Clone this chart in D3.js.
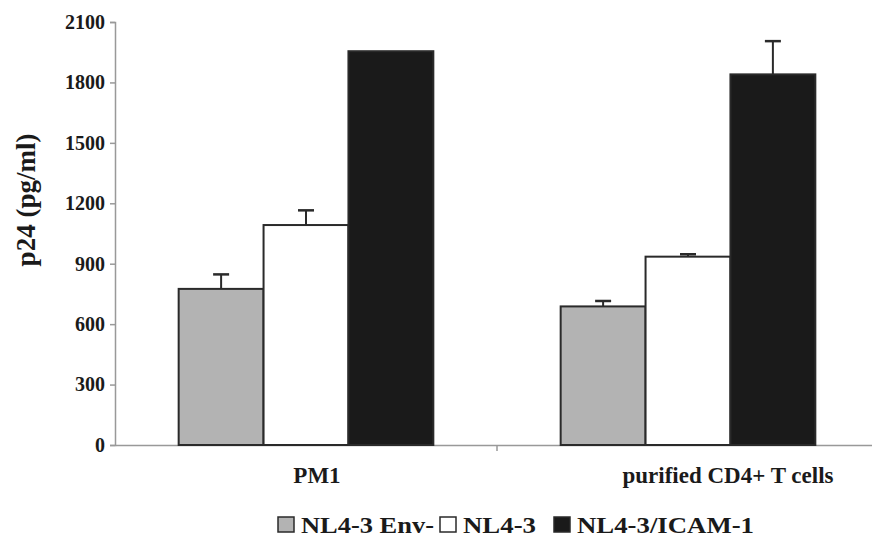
<!DOCTYPE html>
<html>
<head>
<meta charset="utf-8">
<script src="https://cdn.jsdelivr.net/npm/d3@7"></script>
<style>
  body { margin: 0; background: #fff; }
  text { font-family: "Liberation Serif", "DejaVu Serif", serif; font-weight: bold; fill: #1a1a1a; }
</style>
</head>
<body>
<div id="chart"></div>
<script>
// datos
const categorias = ['PM1', 'purified CD4+ T cells'];
const series = ['NL4-3 Env-', 'NL4-3', 'NL4-3/ICAM-1'];
const valores = [
  [775, 1092, 1955],
  [688, 935, 1840]
];
const errores = [
  [72, 73, 0],
  [27, 12, 165]
];
const ticksY = [0, 300, 600, 900, 1200, 1500, 1800, 2100];

const colores = ['#b3b3b3', '#ffffff', '#1a1a1a'];

const width = 872, height = 553;
const margin = {left: 115, right: -7, top: 22, bottom: 108};

const svg = d3.select('#chart').append('svg')
  .attr('width', width)
  .attr('height', height);

const x0 = d3.scaleBand()
  .domain(categorias)
  .range([margin.left, width - margin.right])
  .paddingInner(0)
  .paddingOuter(0);

const x1 = d3.scaleBand()
  .domain(series)
  .range([0, x0.bandwidth()])
  .paddingInner(0)
  .paddingOuter(0.75);

const y = d3.scaleLinear()
  .domain([0, 2100])
  .range([height - margin.bottom, margin.top]);

// ejes
const yAxis = svg.append('g')
  .attr('transform', 'translate(' + margin.left + ',0)')
  .call(d3.axisLeft(y).tickValues(ticksY).tickFormat(d3.format('d')).tickSize(5).tickPadding(5));
yAxis.select('.domain').attr('stroke', '#999').attr('stroke-width', 1.5);
yAxis.selectAll('.tick line').attr('stroke', '#999').attr('stroke-width', 1.5);
yAxis.selectAll('.tick text').attr('font-size', 20).attr('fill', '#1a1a1a')
  .style('font-family', '"Liberation Serif", serif').style('font-weight', 'bold');

const xAxis = svg.append('g')
  .attr('transform', 'translate(0,' + y(0) + ')')
  .call(d3.axisBottom(x0).tickSize(0).tickFormat(''));
xAxis.select('.domain').attr('stroke', '#999').attr('stroke-width', 1.5);

// marca de separación entre categorías
svg.append('line')
  .attr('x1', x0(categorias[1])).attr('x2', x0(categorias[1]))
  .attr('y1', y(0)).attr('y2', y(0) + 6)
  .attr('stroke', '#999').attr('stroke-width', 1.5);

// barras
const grupos = svg.selectAll('.grupo')
  .data(categorias)
  .enter().append('g')
  .attr('class', 'grupo')
  .attr('transform', d => 'translate(' + x0(d) + ',0)');

grupos.each(function(cat, ci) {
  const g = d3.select(this);
  series.forEach(function(s, si) {
    const v = valores[ci][si], e = errores[ci][si];
    const cx = x1(s) + x1.bandwidth() / 2;
    if (e > 0) {
      g.append('line')
        .attr('x1', cx).attr('x2', cx)
        .attr('y1', y(v)).attr('y2', y(v + e))
        .attr('stroke', '#2a2a2a').attr('stroke-width', 2);
      g.append('line')
        .attr('x1', cx - 8).attr('x2', cx + 8)
        .attr('y1', y(v + e)).attr('y2', y(v + e))
        .attr('stroke', '#2a2a2a').attr('stroke-width', 2.5);
    }
    g.append('rect')
      .attr('x', x1(s))
      .attr('y', y(v))
      .attr('width', x1.bandwidth())
      .attr('height', y(0) - y(v))
      .attr('fill', colores[si])
      .attr('stroke', '#2a2a2a')
      .attr('stroke-width', 2);
  });
});

// etiquetas de categoría
const desplaz = [11, 40];
svg.selectAll('.cat')
  .data(categorias)
  .enter().append('text')
  .attr('class', 'cat')
  .attr('x', (d, i) => x0(d) + x0.bandwidth() / 2 + desplaz[i])
  .attr('y', y(0) + 38)
  .attr('text-anchor', 'middle')
  .attr('font-size', 23)
  .text(d => d);

// título eje Y
svg.append('text')
  .attr('transform', 'translate(35,200) rotate(-90)')
  .attr('text-anchor', 'middle')
  .attr('font-size', 27)
  .text('p24 (pg/ml)');

// leyenda
const leyenda = svg.append('g').attr('transform', 'translate(0,525)');
const legX = [278, 440, 554];
const legLargo = [133, 73, 177];
series.forEach(function(s, i) {
  leyenda.append('rect')
    .attr('x', legX[i]).attr('y', -8)
    .attr('width', 16).attr('height', 15)
    .attr('fill', colores[i])
    .attr('stroke', '#2a2a2a').attr('stroke-width', 1.5);
  leyenda.append('text')
    .attr('x', legX[i] + 23).attr('y', 8)
    .attr('font-size', 24)
    .attr('textLength', legLargo[i])
    .attr('lengthAdjust', 'spacingAndGlyphs')
    .text(s);
});
</script>
</body>
</html>
